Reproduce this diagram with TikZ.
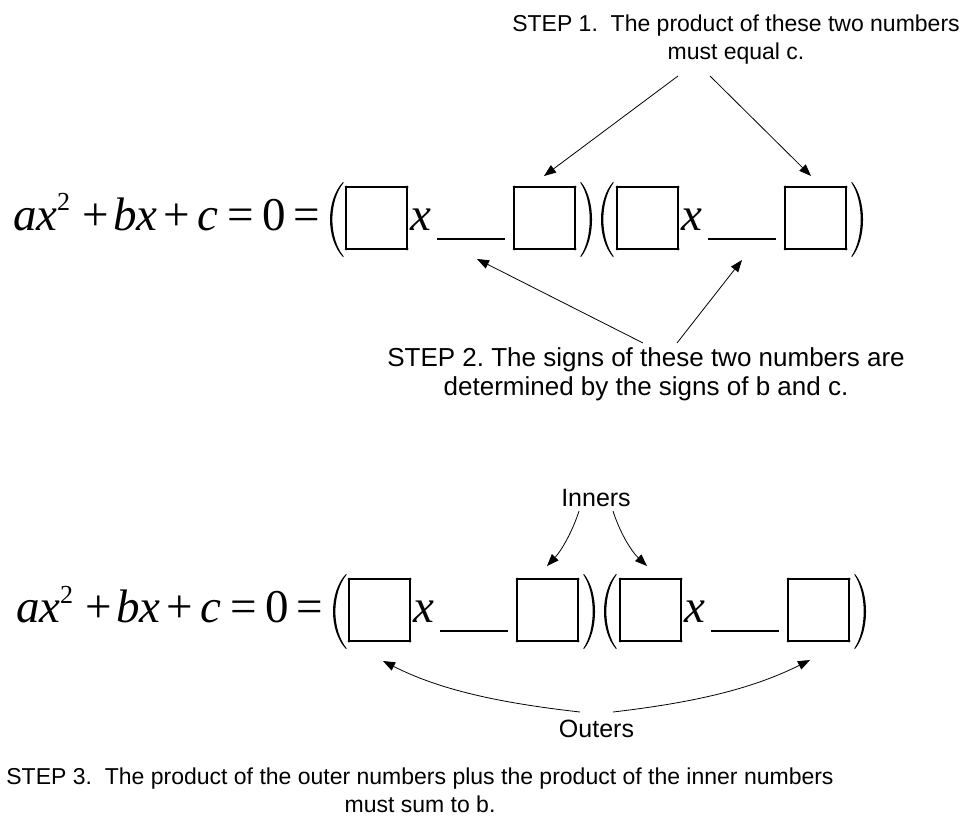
\documentclass[tikz,border=0pt]{standalone}
\usepackage{fontspec}
\setmainfont{Liberation Sans}
\newfontfamily\tms{Liberation Serif}
\usetikzlibrary{arrows.meta}
\frenchspacing
\newcommand\quadeq[3]{%
\begin{scope}[shift={(#2,#3)}]
  \node[eqi] (#1ax) at (13,230) {ax};
  \node[eqs] (#1sq) at (57,211) {2};
  \node[eqr] (#1p1) at (82,230) {+};
  \node[eqi] (#1bx) at (113,230) {bx};
  \node[eqr] (#1p2) at (163,230) {+};
  \node[eqi] (#1c) at (197,230) {c};
  \node[eqr] (#1e1) at (227,230) {=};
  \node[eqr] (#1z) at (262,230) {0};
  \node[eqr] (#1e2) at (293,230) {=};
  % parentheses
  \fill (343,182) .. controls (325.7,200) and (325.7,239) .. (343,257) -- (343.7,256.4) .. controls (328.6,238) and (328.6,201) .. (343.7,182.6) -- cycle;
  \fill (581,182) .. controls (595.7,200) and (595.7,239) .. (581,257) -- (580.3,256.4) .. controls (592.8,238) and (592.8,201) .. (580.3,182.6) -- cycle;
  \fill (613,182) .. controls (597,200) and (597,239) .. (613,257) -- (613.7,256.4) .. controls (599.9,238) and (599.9,201) .. (613.7,182.6) -- cycle;
  \fill (852,182) .. controls (866.7,200) and (866.7,239) .. (852,257) -- (851.3,256.4) .. controls (863.8,238) and (863.8,201) .. (851.3,182.6) -- cycle;
  % blanks
  \node[blank] (#1b1) at (376.5,218) {};
  \node[blank] (#1b2) at (544.5,218) {};
  \node[blank] (#1b3) at (647.5,218) {};
  \node[blank] (#1b4) at (815.5,218) {};
  \foreach \b in {b1,b2,b3,b4}{
    \foreach \c in {north west,north east,south west,south east}{
      \fill (#1\b.\c) circle (1.5pt);}}
  \node[eqi] (#1x1) at (410,230) {x};
  \node[eqi] (#1x2) at (681,230) {x};
  \coordinate (#1u1a) at (437,239); \coordinate (#1u1b) at (505,239);
  \coordinate (#1u2a) at (708,239); \coordinate (#1u2b) at (776,239);
  \draw[line width=1.4pt] (#1u1a) -- (#1u1b);
  \draw[line width=1.4pt] (#1u2a) -- (#1u2b);
\end{scope}}
\begin{document}
\begin{tikzpicture}[x=1pt,y=-1pt,
  lbl/.style={font=\fontsize{23}{28}\selectfont, inner sep=0pt, anchor=base},
  lblm/.style={font=\fontsize{26}{30}\selectfont, inner sep=0pt, anchor=base},
  lblb/.style={font=\fontsize{25}{30}\selectfont, inner sep=0pt, anchor=base},
  eqi/.style={font=\tms\itshape\fontsize{47}{50}\selectfont, inner sep=0pt, anchor=base west},
  eqr/.style={font=\tms\fontsize{47}{50}\selectfont, inner sep=0pt, anchor=base west},
  eqs/.style={font=\tms\fontsize{26}{28}\selectfont, inner sep=0pt, anchor=base west},
  blank/.style={draw, line width=1.8pt, minimum width=61pt, minimum height=62pt, inner sep=0pt, outer sep=0pt},
  arr/.style={-{Triangle[length=12pt,width=9pt]}, line width=0.8pt},
]
\useasboundingbox (0,0) rectangle (966,821);
\fill[white] (0,0) rectangle (966,821);

\quadeq{t}{0}{0}
\quadeq{m}{3}{392}

% STEP 1
\node[lbl] (s1a) at (736,32) {STEP 1.\hspace{0.556em}The product of these two numbers};
\node[lbl] (s1b) at (736,60) {must equal c.};
\coordinate (s1l) at (678,76); \coordinate (s1r) at (710,76);
\coordinate (s1lt) at (544,176); \coordinate (s1rt) at (811,176);
\draw[arr] (s1l) -- (s1lt);
\draw[arr] (s1r) -- (s1rt);

% STEP 2
\node[lblm] (s2a) at (646,366) {STEP 2. The signs of these two numbers are};
\node[lblm] (s2b) at (646,395) {determined by the signs of b and c.};
\coordinate (s2l) at (643,343); \coordinate (s2r) at (677,343);
\coordinate (s2lt) at (477,259); \coordinate (s2rt) at (742,260);
\draw[arr] (s2l) -- (s2lt);
\draw[arr] (s2r) -- (s2rt);

% Inners
\node[lblb] (inn) at (596,506) {Inners};
\coordinate (il) at (579,511); \coordinate (ir) at (613,511);
\coordinate (ilt) at (547,566); \coordinate (irt) at (647,566);
\draw[arr] (il) .. controls (573,530) and (562,550) .. (ilt);
\draw[arr] (ir) .. controls (619,530) and (630,550) .. (irt);

% Outers
\node[lblb] (out) at (596.5,737) {Outers};
\coordinate (ol) at (580,712); \coordinate (or) at (613,712);
\coordinate (olt) at (383,661); \coordinate (ort) at (810,660);
\draw[arr] (ol) .. controls (500,703) and (440,690) .. (olt);
\draw[arr] (or) .. controls (690,703) and (750,690) .. (ort);

% STEP 3
\node[lbl] (s3a) at (420,784) {STEP 3.\hspace{0.556em}The product of the outer numbers plus the product of the inner numbers};
\node[lbl] (s3b) at (420,812) {must sum to b.};
\end{tikzpicture}
\end{document}
